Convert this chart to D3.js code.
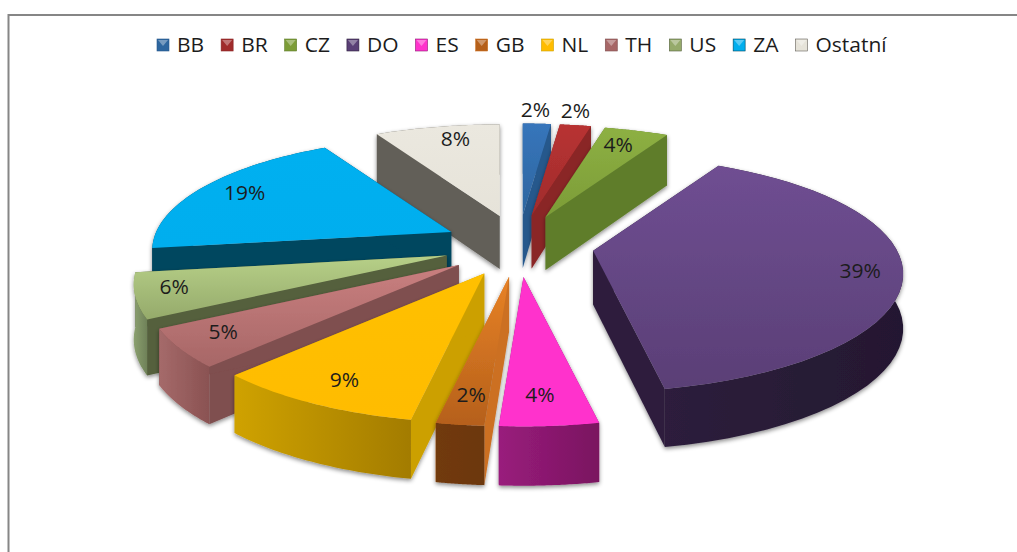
<!DOCTYPE html>
<html>
<head>
<meta charset="utf-8">
<script src="https://cdn.jsdelivr.net/npm/d3@7"></script>
<style>
  html, body { margin: 0; background: #fff; }
  svg { display: block; }
  text { font-family: "Open Sans", sans-serif; fill: #1c1c1c; }
</style>
</head>
<body>
<svg class="chart" width="1017" height="552"></svg>
<script>
const categories = ["BB", "BR", "CZ", "DO", "ES", "GB", "NL", "TH", "US", "ZA", "Ostatní"];
const percents = [1.8, 2, 4.1, 39, 4.1, 2, 9, 5, 6, 19, 8];

const topLight = ["#3775bb", "#b83232", "#8db043", "#6f4e92", "#ff33cc", "#e88226", "#ffc000", "#c97f7f", "#b7d088", "#00b0f0", "#ebe8df"];
const topDark = ["#2d669f", "#a02c2c", "#7c9c37", "#5a3f76", "#ff33cc", "#b5601b", "#ffbc00", "#a76767", "#95aa6b", "#00aeee", "#e6e3d9"];
const wallColor = ["#27588c", "#8a2626", "#5f7d2c", "#2e1f3d", "#8e1a74", "#cc7020", "#cca000", "#7f4f4f", "#55603d", "#00465f", "#625f58"];
const outerLight = ["#27588c", "#8a2626", "#5f7d2c", "#2d1f3c", "#991c7c", "#713a10", "#cfa200", "#a56a6a", "#8ba070", "#00465f", "#625f58"];
const outerDark = ["#27588c", "#8a2626", "#5f7d2c", "#241831", "#7a1560", "#6c370f", "#a37c00", "#8a5252", "#6f8158", "#00465f", "#625f58"];

const svg = d3.select(".chart");
const defs = svg.append("defs");

// soft shadow under each slice
const shadow = defs.append("filter")
  .attr("id", "shadow")
  .attr("x", "-20%")
  .attr("y", "-20%")
  .attr("width", "140%")
  .attr("height", "140%");
shadow.append("feDropShadow")
  .attr("dx", 0)
  .attr("dy", 2)
  .attr("stdDeviation", 2.2)
  .attr("flood-color", "#000")
  .attr("flood-opacity", 0.45);

const addGradient = (id, from, to, horizontal) => {
  const g = defs.append("linearGradient")
    .attr("id", id)
    .attr("x1", 0)
    .attr("y1", 0)
    .attr("x2", horizontal ? 1 : 0)
    .attr("y2", horizontal ? 0 : 1);
  g.append("stop").attr("offset", 0).attr("stop-color", from);
  g.append("stop").attr("offset", 1).attr("stop-color", to);
};

categories.forEach((c, i) => {
  addGradient("top" + i, topLight[i], topDark[i], false);
  addGradient("outer" + i, outerLight[i], outerDark[i], true);
});

// chart frame, open at the bottom and right
svg.append("path")
  .attr("d", "M8.5,552V15H1017")
  .attr("fill", "none")
  .attr("stroke", "#868686")
  .attr("stroke-width", 2);

// ground plane to screen, with a bit of perspective towards the viewer
const xScale = d3.scaleLinear().domain([-1, 1]).range([-305, 305]);
const yScale = d3.scaleLinear().domain([-1, 1]).range([116, -112]);
const explodeX = d3.scaleLinear().domain([-1, 1]).range([443, 594]);
const explodeY = d3.scaleLinear().domain([-1, 1]).range([277, 215]);
const depthAt = (y) => 46.5 + 0.03 * y;

// the two big slices read flatter than the rest, ZA also a little smaller
const radiusOf = (i) => (i === 9 ? 0.97 : 1);
const perspectiveOf = (i) => (i === 3 ? 0.18 : i === 9 ? 0.15 : 0.224);

const project = (d, r, a) => {
  const z = r * Math.cos(a);
  const s = 1 / (1 + d.perspective * z);
  return [d.tip[0] + xScale(r * Math.sin(a)) * s, d.tip[1] + yScale(z) * s];
};
const drop = (p) => [p[0], p[1] + depthAt(p[1])];

const slices = d3.pie().sort(null).value((d) => d)(percents).map((d, i) => {
  const mid = (d.startAngle + d.endAngle) / 2;
  return {
    i: i,
    value: d.value,
    start: d.startAngle,
    end: d.endAngle,
    mid: mid,
    radius: radiusOf(i),
    perspective: perspectiveOf(i),
    tip: [explodeX(Math.sin(mid)), explodeY(Math.cos(mid))],
  };
});

const line = d3.line();
const closed = (points) => line(points) + "Z";

const wall = (a, b) => closed(a.concat(b.slice().reverse().map(drop)));

const drawSlice = (d) => {
  const g = svg.append("g").attr("filter", "url(#shadow)");
  const arc = d3.range(0, 41).map((k) =>
    project(d, d.radius, d.start + (d.end - d.start) * k / 40)
  );
  const startEdge = [d.tip, arc[0]];
  const endEdge = [d.tip, arc[arc.length - 1]];

  // walls first, the top face hides whatever falls behind it
  g.append("path")
    .attr("d", wall(startEdge, startEdge))
    .attr("fill", wallColor[d.i]);
  g.append("path")
    .attr("d", wall(endEdge, endEdge))
    .attr("fill", wallColor[d.i]);
  g.append("path")
    .attr("d", wall(arc, arc))
    .attr("fill", "url(#outer" + d.i + ")");

  g.append("path")
    .attr("d", closed([d.tip].concat(arc)))
    .attr("fill", "url(#top" + d.i + ")");
};

slices
  .slice()
  .sort((a, b) => Math.cos(b.mid) - Math.cos(a.mid))
  .forEach(drawSlice);

// labels, the two thin back slices have theirs outside
const labelNudge = [[-3, -3], [-5, -4], [-5, 1], [11, 4], [-4, 0], [1, 1], [-2, 3], [-10, -1], [-17, -2], [7, 0], [9, -1]];
const stretch = 1.05;

slices.forEach((d) => {
  const outside = d.value <= 2 && Math.cos(d.mid) > 0;
  const p = project(d, outside ? 1.14 : 0.83, d.mid);
  const nudge = labelNudge[d.i];
  svg.append("text")
    .attr("transform", "translate(" + (p[0] + nudge[0]) + "," + (p[1] + nudge[1] + 7) + ") scale(" + stretch + ",1)")
    .attr("text-anchor", "middle")
    .attr("font-size", "20px")
    .text(Math.round(d.value) + "%");
});

// legend, items laid out by their measured text width
const legend = svg.append("g");
let legendX = 157;
categories.forEach((c, i) => {
  const item = legend.append("g").attr("transform", "translate(" + legendX + ",39)");
  item.append("rect")
    .attr("width", 12)
    .attr("height", 12)
    .attr("fill", topDark[i])
    .attr("stroke", wallColor[i])
    .attr("stroke-width", 0.6);
  item.append("path")
    .attr("d", "M1,1H11L6,7Z")
    .attr("fill", "#fff")
    .attr("opacity", 0.35);
  const label = item.append("text")
    .attr("transform", "translate(20,13) scale(" + stretch + ",1)")
    .attr("font-size", "20px")
    .text(c);
  legendX += 20 + label.node().getComputedTextLength() * stretch + 17;
});
</script>
</body>
</html>
